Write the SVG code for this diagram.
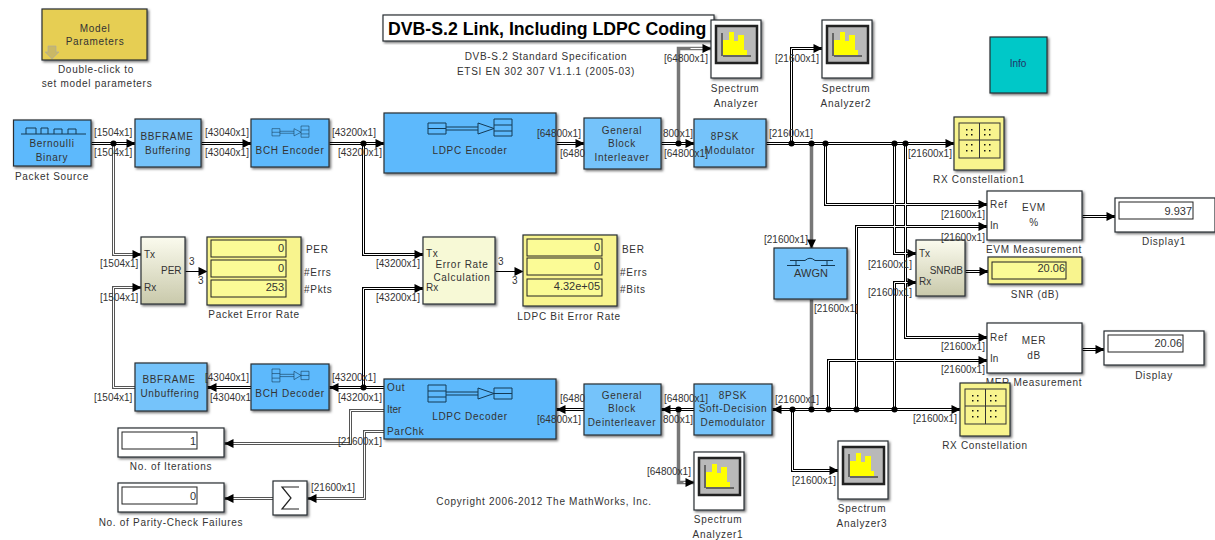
<svg xmlns="http://www.w3.org/2000/svg" xmlns:xlink="http://www.w3.org/1999/xlink" width="1215" height="540" viewBox="0 0 1215 540">
<style>
text{font-family:"Liberation Sans",Arial,sans-serif;font-size:10px;fill:#333}
.c{text-anchor:middle;letter-spacing:.7px}
.b{stroke:#2a2f33;stroke-width:1.2;filter:url(#sh)}
.blue{fill:#5db9fc}.lb{fill:#74c3fa}.yl{fill:#f8f48e}.wh{fill:#fff}
.fld{fill:#fbfb96;stroke:#222;stroke-width:1}
.fw{fill:#fff;stroke:#222;stroke-width:1}
.r{text-anchor:end;font-size:11px}
.wire{fill:none}
.ob{stroke:#000;stroke-width:3}
.og{stroke:#555;stroke-width:3}
.os{stroke:#777;stroke-width:3.500}
.in{stroke:#fff;stroke-width:1}
.ic{fill:none;stroke:#143a55;stroke-width:1}
.dot{fill:#000}
</style>
<defs>
<filter id="sh" x="-10%" y="-10%" width="125%" height="125%"><feDropShadow dx="1.500" dy="1.500" stdDeviation="1" flood-color="#000" flood-opacity=".55"/></filter>
<linearGradient id="gp" x1="0" y1="0" x2="0" y2="1"><stop offset="0" stop-color="#fbfbee"/><stop offset="1" stop-color="#c9c9ab"/></linearGradient>
<path id="ar" d="M-9-4.500L0 0L-9 4.500Z" fill="#000"/>
<path id="al" d="M9-4.500L0 0L9 4.500Z" fill="#000"/>
<path id="ad" d="M-4.500-9L0 0L4.500-9Z" fill="#000"/>
<g id="wb">
<path d="M91 143H135"/><path d="M201 143H251"/><path d="M329 143H384"/><path d="M556 143H584"/><path d="M661 143H694"/>
<path d="M766 143H954"/><path d="M825 143V204H987"/><path d="M894 143V253H916"/><path d="M905 143V337H987"/>
<path d="M856 409V226H987"/><path d="M828 409V360H987"/><path d="M894 409V282H916"/><path d="M772 409H960"/>
<path d="M792 409V470H838"/><path d="M694 409H661"/><path d="M584 409H556"/><path d="M384 387H329"/><path d="M363 387V288H423"/><path d="M363 143V254H423"/>
<path d="M251 387H207"/><path d="M1082 216H1115"/><path d="M965 271H988"/><path d="M1082 349H1104"/><path d="M791 143V48H822"/>
</g>
<g id="wg">
<path d="M135 387H113V287H141"/><path d="M113 143V254H141"/>
<path d="M384 410H350V443H224"/><path d="M384 431H364V498H307"/><path d="M273 498H224"/>
</g>
<g id="spec"><rect width="50" height="58" fill="#fff" class="b"/><rect x="5" y="6" width="41" height="37" fill="#b9b9b9" stroke="#222" stroke-width="2.500"/><path d="M12 36H40M11 13V36" fill="none" stroke="#111" stroke-width="1"/><path d="M12 35V20H18V12H23V21H27V15H33V30H36V35Z" fill="#ff0"/></g>
<g id="cons"><rect width="50" height="53" class="b yl"/><rect x="5" y="6" width="41" height="35" fill="none" stroke="#333" stroke-width="1"/><path d="M25.500 6V41M5 23H46" stroke="#333" fill="none"/><path d="M12 12h1.500v1.500h-1.500zM17 12h1.500v1.500h-1.500zM12 17h1.500v1.500h-1.500zM17 17h1.500v1.500h-1.500zM30 12h1.500v1.500h-1.500zM35 12h1.500v1.500h-1.500zM30 17h1.500v1.500h-1.500zM35 17h1.500v1.500h-1.500zM12 27h1.500v1.500h-1.500zM17 27h1.500v1.500h-1.500zM12 33h1.500v1.500h-1.500zM17 33h1.500v1.500h-1.500zM30 27h1.500v1.500h-1.500zM35 27h1.500v1.500h-1.500zM30 33h1.500v1.500h-1.500zM35 33h1.500v1.500h-1.500z" fill="#111"/></g>
<g id="enc" class="ic"><path d="M0 4H18V15H0ZM0 9.500H18M66 0H84V17H66ZM66 6H84M66 12H84M18 8H50M18 11H50M50 4L66 9.500L50 15Z"/></g>
<g id="dec" class="ic"><path d="M0 0H18V17H0ZM0 6H18M0 12H18M66 3H84V14H66ZM66 8.500H84M18 7H50M18 10H50M50 3L66 8.500L50 14Z"/></g>
</defs>

<g id="connectors" transform="translate(.5 .5)">
<g class="wire">
<path class="os" d="M678 143V48H711M811 143V248M811 299V409M678 409V482H694"/>
<use href="#wg" class="og"/>
<use href="#wb" class="ob"/>
<use href="#wg" class="in"/>
<use href="#wb" class="in"/>
<path class="in" d="M690 48H711M683 482H694"/>
<path d="M185 271H207M495 271H523" stroke="#000" stroke-width="1"/>
</g>
<g id="arrowheads">
<use href="#ar" x="135" y="143"/><use href="#ar" x="251" y="143"/><use href="#ar" x="384" y="143"/><use href="#ar" x="584" y="143"/><use href="#ar" x="694" y="143"/><use href="#ar" x="954" y="143"/><use href="#ar" x="987" y="204"/><use href="#ar" x="916" y="253"/><use href="#ar" x="987" y="337"/><use href="#ar" x="987" y="226"/><use href="#ar" x="987" y="360"/><use href="#ar" x="916" y="282"/><use href="#ar" x="960" y="409"/><use href="#ar" x="838" y="470"/><use href="#ar" x="423" y="288"/><use href="#ar" x="423" y="254"/><use href="#ar" x="1115" y="216"/><use href="#ar" x="988" y="271"/><use href="#ar" x="1104" y="349"/><use href="#ar" x="822" y="48"/><use href="#ar" x="711" y="48"/><use href="#ar" x="694" y="482"/><use href="#ar" x="141" y="287"/><use href="#ar" x="141" y="254"/><use href="#ar" x="207" y="271"/><use href="#ar" x="523" y="271"/>
<use href="#al" x="772" y="409"/><use href="#al" x="661" y="409"/><use href="#al" x="556" y="409"/><use href="#al" x="329" y="387"/><use href="#al" x="207" y="387"/><use href="#al" x="224" y="443"/><use href="#al" x="307" y="498"/><use href="#al" x="224" y="498"/>
<use href="#ad" x="811" y="248"/>
</g>
<g class="dot"><circle cx="113" cy="143" r="3"/><circle cx="363" cy="143" r="3"/><circle cx="678" cy="143" r="3"/><circle cx="791" cy="143" r="3"/><circle cx="811" cy="143" r="3"/><circle cx="825" cy="143" r="3"/><circle cx="894" cy="143" r="3"/><circle cx="905" cy="143" r="3"/><circle cx="792" cy="409" r="3"/><circle cx="811" cy="409" r="3"/><circle cx="828" cy="409" r="3"/><circle cx="856" cy="409" r="3"/><circle cx="894" cy="409" r="3"/><circle cx="678" cy="409" r="3"/><circle cx="363" cy="387" r="3"/></g>
</g>

<g id="model-parameters"><rect x="42" y="9" width="105" height="51" class="b" fill="#e6ce52"/><path d="M48 46h8v6h3l-7 7l-7-7h3z" fill="#c9b866" stroke="#aaa" stroke-width=".6"/><text x="95" y="32" class="c">Model</text><text x="95" y="45" class="c">Parameters</text><text x="96" y="73" class="c">Double-click to</text><text x="97" y="87" class="c">set model parameters</text></g>
<g id="title"><rect x="383" y="15" width="331" height="26" fill="#fff" stroke="#111" class="b"/><text x="388" y="35" style="font-size:17.700px;font-weight:bold;fill:#000">DVB-S.2 Link, Including LDPC Coding</text></g>
<g id="spec-note"><text x="546" y="60" class="c">DVB-S.2 Standard Specification</text><text x="546" y="75" class="c">ETSI EN 302 307 V1.1.1 (2005-03)</text></g>
<g id="bernoulli"><rect x="13.500" y="120" width="77.500" height="46" class="b blue"/><path d="M21 134H86M26 134V128H36V134M41 134V128H48V134M54 134V129H62V134M68 134V129H76V134" fill="none" stroke="#143a55"/><text x="52" y="147" class="c">Bernoulli</text><text x="52" y="161" class="c">Binary</text><text x="52" y="180" class="c">Packet Source</text></g>
<g id="bbframe-buffering"><rect x="135" y="119" width="66" height="48" class="b lb"/><text x="167" y="140" class="c">BBFRAME</text><text x="168" y="154" class="c">Buffering</text></g>
<g id="bch-encoder"><rect x="251" y="119" width="78" height="48" class="b blue"/><use href="#enc" transform="translate(272 126) scale(.44 .66)"/><text x="290" y="154" class="c">BCH Encoder</text></g>
<g id="ldpc-encoder"><rect x="384" y="113" width="172" height="60" class="b blue"/><use href="#enc" transform="translate(428 119)"/><text x="470" y="154" class="c">LDPC Encoder</text></g>
<g id="interleaver"><rect x="584" y="118" width="77" height="51" class="b lb"/><text x="622" y="134" class="c">General</text><text x="622" y="147" class="c">Block</text><text x="622" y="161" class="c">Interleaver</text></g>
<g id="modulator"><rect x="694" y="119" width="72" height="48" class="b lb"/><text x="725" y="140" class="c">8PSK</text><text x="730" y="154" class="c">Modulator</text></g>
<g id="spectrum-analyzer"><use href="#spec" x="711" y="20"/><text x="735" y="92" class="c">Spectrum</text><text x="736" y="107" class="c">Analyzer</text></g>
<g id="spectrum-analyzer2"><use href="#spec" x="822" y="20"/><text x="846" y="92" class="c">Spectrum</text><text x="846" y="107" class="c">Analyzer2</text></g>
<g id="info"><rect x="990" y="37" width="57" height="56" fill="#00c8c8" stroke="#0a5f5f" class="b"/><text x="1018" y="67" style="text-anchor:middle;fill:#236">Info</text></g>
<g id="rx-constellation1"><use href="#cons" x="954" y="117"/><text x="979" y="183" class="c">RX Constellation1</text></g>
<g id="evm"><rect x="987" y="191" width="95" height="49" class="b wh"/><text x="1034" y="211" class="c">EVM</text><text x="1034" y="226" class="c">%</text><text x="990" y="208" class="c" style="text-anchor:start">Ref</text><text x="990" y="229">In</text><text x="1034" y="253" class="c">EVM Measurement</text></g>
<g id="display1"><rect x="1115" y="198" width="100" height="34" class="b wh"/><rect x="1119" y="202" width="74" height="17" class="fw"/><text x="1192" y="215" class="r">9.937</text><text x="1164" y="245" class="c">Display1</text></g>
<g id="snr"><rect x="916" y="240" width="49" height="56" class="b" fill="url(#gp)"/><text x="919" y="257">Tx</text><text x="919" y="285">Rx</text><text x="963" y="274" style="text-anchor:end">SNRdB</text></g>
<g id="snr-display"><rect x="988" y="257" width="94" height="27" class="b yl"/><rect x="992" y="262" width="74" height="17" class="fw" style="fill:#fbfb96"/><text x="1065" y="272" class="r">20.06</text><text x="1035" y="298" class="c">SNR (dB)</text></g>
<g id="awgn"><rect x="774" y="248" width="73" height="51" class="b lb"/><path d="M790 260.500H805Q810 256 815 260.500H833M796 260.500V265M787 265.500H800M827 260.500V265M821 265.500H835" fill="none" stroke="#143a55"/><text x="811" y="277" style="text-anchor:middle;font-size:11px">AWGN</text></g>
<g id="mer"><rect x="987" y="323" width="95" height="50" class="b wh"/><text x="1034" y="344" class="c">MER</text><text x="1034" y="359" class="c">dB</text><text x="990" y="341" class="c" style="text-anchor:start">Ref</text><text x="990" y="362">In</text><text x="1034" y="386" class="c">MER Measurement</text></g>
<g id="display"><rect x="1104" y="331" width="100" height="34" class="b wh"/><rect x="1108" y="335" width="75" height="17" class="fw"/><text x="1182" y="347" class="r">20.06</text><text x="1154" y="379" class="c">Display</text></g>
<g id="rx-constellation"><use href="#cons" x="960" y="383"/><text x="985" y="449" class="c">RX Constellation</text></g>
<g id="spectrum-analyzer3"><use href="#spec" x="838" y="441"/><text x="862" y="512" class="c">Spectrum</text><text x="862" y="527" class="c">Analyzer3</text></g>
<g id="demodulator"><rect x="694" y="384" width="78" height="51" class="b lb"/><text x="733" y="399" class="c">8PSK</text><text x="733" y="412" class="c">Soft-Decision</text><text x="733" y="426" class="c">Demodulator</text></g>
<g id="deinterleaver"><rect x="584" y="384" width="77" height="51" class="b lb"/><text x="622" y="399" class="c">General</text><text x="622" y="412" class="c">Block</text><text x="622" y="426" class="c">Deinterleaver</text></g>
<g id="ldpc-decoder"><rect x="384" y="379" width="172" height="60" class="b blue"/><use href="#dec" transform="translate(428 385)"/><text x="470" y="420" class="c">LDPC Decoder</text><text x="387" y="391" class="c" style="text-anchor:start">Out</text><text x="387" y="413">Iter</text><text x="387" y="435" class="c" style="text-anchor:start">ParChk</text></g>
<g id="bch-decoder"><rect x="251" y="364" width="78" height="46" class="b blue"/><use href="#dec" transform="translate(272 369) scale(.44 .76)"/><text x="290" y="397" class="c">BCH Decoder</text></g>
<g id="bbframe-unbuffering"><rect x="135" y="363" width="72" height="48" class="b lb"/><text x="169" y="383" class="c">BBFRAME</text><text x="170" y="397" class="c">Unbuffering</text></g>
<g id="spectrum-analyzer1"><use href="#spec" x="694" y="452"/><text x="718" y="523" class="c">Spectrum</text><text x="718" y="538" class="c">Analyzer1</text></g>
<g id="iterations"><rect x="118" y="428" width="106" height="29" class="b wh"/><rect x="122" y="432" width="75" height="17" class="fw"/><text x="196" y="445" class="r">1</text><text x="171" y="470" class="c">No. of Iterations</text></g>
<g id="parity"><rect x="118" y="483" width="106" height="29" class="b wh"/><rect x="122" y="487" width="75" height="17" class="fw"/><text x="196" y="500" class="r">0</text><text x="171" y="526" class="c">No. of Parity-Check Failures</text></g>
<g id="sum"><rect x="273" y="481" width="34" height="34" class="b wh"/><path d="M299 487H282L291 498L282 509H299" fill="none" stroke="#222" stroke-width="1.200"/></g>
<g id="per"><rect x="141" y="237" width="44" height="67" class="b" fill="url(#gp)"/><text x="144" y="258">Tx</text><text x="144" y="291">Rx</text><text x="161" y="274">PER</text></g>
<g id="per-display"><rect x="207" y="237" width="94" height="68" class="b yl"/><rect x="211" y="240" width="75" height="17" class="fld"/><rect x="211" y="260" width="75" height="17" class="fld"/><rect x="211" y="280" width="75" height="17" class="fld"/><text x="284" y="252" class="r">0</text><text x="284" y="272" class="r">0</text><text x="284" y="291" class="r">253</text><text x="306" y="253" class="c" style="text-anchor:start">PER</text><text x="304" y="276" class="c" style="text-anchor:start">#Errs</text><text x="304" y="293" class="c" style="text-anchor:start">#Pkts</text><text x="254" y="318" class="c">Packet Error Rate</text></g>
<g id="error-rate"><rect x="423" y="237" width="72" height="67" class="b" style="fill:#f7f9d6"/><text x="426" y="257" class="c" style="text-anchor:start">Tx</text><text x="426" y="291">Rx</text><text x="462" y="268" class="c">Error Rate</text><text x="462" y="281" class="c">Calculation</text></g>
<g id="ber-display"><rect x="523" y="235" width="94" height="71" class="b yl"/><rect x="527" y="239" width="75" height="17" class="fld"/><rect x="527" y="258" width="75" height="17" class="fld"/><rect x="527" y="279" width="75" height="17" class="fld"/><text x="600" y="251" class="r">0</text><text x="600" y="270" class="r">0</text><text x="600" y="290" class="r">4.32e+05</text><text x="622" y="253" class="c" style="text-anchor:start">BER</text><text x="620" y="276" class="c" style="text-anchor:start">#Errs</text><text x="620" y="293" class="c" style="text-anchor:start">#Bits</text><text x="569" y="320" class="c">LDPC Bit Error Rate</text></g>
<text x="544" y="505" class="c">Copyright 2006-2012 The MathWorks, Inc.</text>

<g id="wire-labels">
<text x="94" y="136">[1504x1]</text><text x="94" y="156">[1504x1]</text><text x="205" y="136">[43040x1]</text><text x="205" y="156">[43040x1]</text><text x="332" y="136">[43200x1]</text><text x="338" y="156">[43200x1]</text>
<text x="537" y="137">[64800x1]</text><text x="560" y="157">[6480</text><text x="663" y="137">800x1]</text><text x="664" y="157">[64800x1]</text><text x="664" y="62">[64800x1]</text><text x="775" y="62">[21600x1]</text>
<text x="769" y="137">[21600x1]</text><text x="908" y="157">[21600x1]</text><text x="941" y="218">[21600x1]</text><text x="941" y="241">[21600x1]</text><text x="764" y="243">[21600x1]</text><text x="868" y="268">[21600x1]</text><text x="868" y="296">[21600x1]</text><text x="814" y="312">[21600x1]</text><text x="941" y="350">[21600x1]</text><text x="941" y="373">[21600x1]</text><text x="775" y="403">[21600x1]</text><text x="913" y="422">[21600x1]</text><text x="792" y="484">[21600x1]</text>
<text x="664" y="402">[64800x1]</text><text x="663" y="423">800x1]</text><text x="560" y="402">[6480</text><text x="537" y="423">[64800x1]</text><text x="647" y="475">[64800x1]</text>
<text x="332" y="381">[43200x1]</text><text x="338" y="401">[43200x1]</text><text x="205" y="381">[43040x1]</text><text x="210" y="401">[43040x1</text><text x="94" y="401">[1504x1]</text><text x="100" y="301">[1504x1]</text><text x="100" y="267">[1504x1]</text><text x="376" y="267">[43200x1]</text><text x="376" y="301">[43200x1]</text><text x="338" y="445">[21600x1]</text><text x="311" y="491">[21600x1]</text>
<text x="189" y="265">3</text><text x="198" y="284">3</text><text x="498" y="265">3</text><text x="512" y="284">3</text>
</g>
</svg>
